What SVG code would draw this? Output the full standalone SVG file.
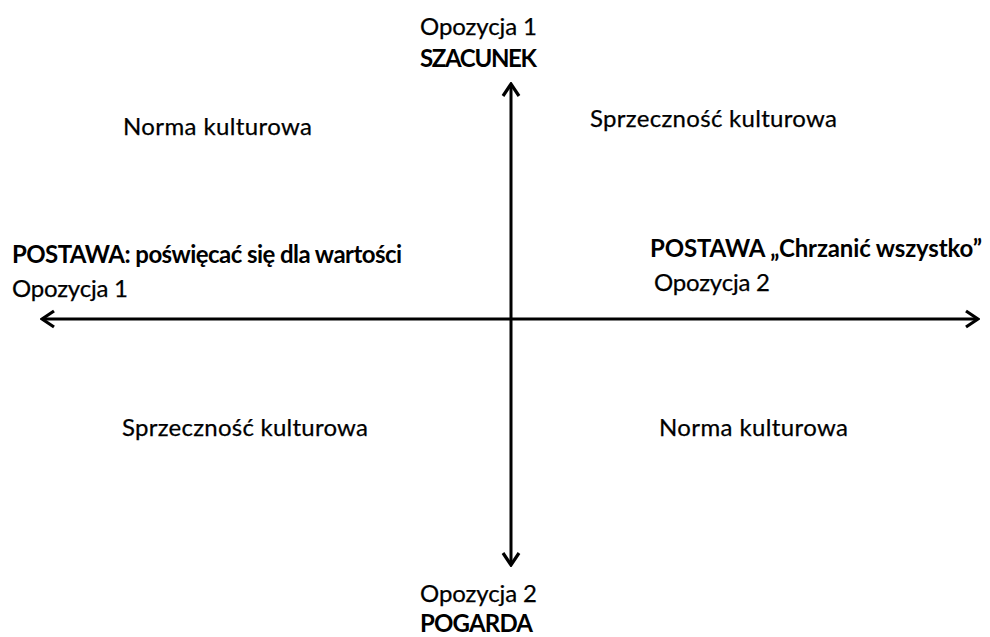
<svg xmlns="http://www.w3.org/2000/svg" width="990" height="637" viewBox="0 0 990 637">
<defs>
<style>
text{font-family:Lato,"Open Sans","Liberation Sans",sans-serif;font-size:24px;fill:#000;stroke:#000;stroke-width:0.25}
.b{font-weight:bold;stroke:none}
.axis{stroke:#000;stroke-width:3;fill:none}
</style>
<marker id="arr" viewBox="0 0 16 20" refX="14" refY="10" markerWidth="16" markerHeight="20" markerUnits="userSpaceOnUse" orient="auto-start-reverse">
<path d="M2,2 L14,10 L2,18" fill="none" stroke="#000" stroke-width="3.2" stroke-linejoin="miter"/>
</marker>
</defs>
<rect width="990" height="637" fill="#fff"/>
<g id="connectors">
<line class="axis" x1="511" y1="84" x2="511" y2="565" marker-start="url(#arr)" marker-end="url(#arr)"/>
<line class="axis" x1="42" y1="319" x2="978" y2="319" marker-start="url(#arr)" marker-end="url(#arr)"/>
</g>
<g id="top">
<text x="420" y="35" textLength="117">Opozycja 1</text>
<text class="b" x="420" y="67" textLength="117">SZACUNEK</text>
</g>
<g id="bottom">
<text x="420" y="602" textLength="117">Opozycja 2</text>
<text class="b" x="420" y="632" textLength="113">POGARDA</text>
</g>
<g id="left">
<text class="b" x="12" y="263" textLength="390">POSTAWA: poświęcać się dla wartości</text>
<text x="12" y="297" textLength="116">Opozycja 1</text>
</g>
<g id="right">
<text class="b" x="650" y="257" textLength="332">POSTAWA „Chrzanić wszystko”</text>
<text x="654" y="291" textLength="116">Opozycja 2</text>
</g>
<g id="q-tl"><text x="123" y="135" textLength="189">Norma kulturowa</text></g>
<g id="q-tr"><text x="590" y="127" textLength="247">Sprzeczność kulturowa</text></g>
<g id="q-bl"><text x="122" y="436" textLength="246">Sprzeczność kulturowa</text></g>
<g id="q-br"><text x="659" y="436" textLength="189">Norma kulturowa</text></g>
</svg>
